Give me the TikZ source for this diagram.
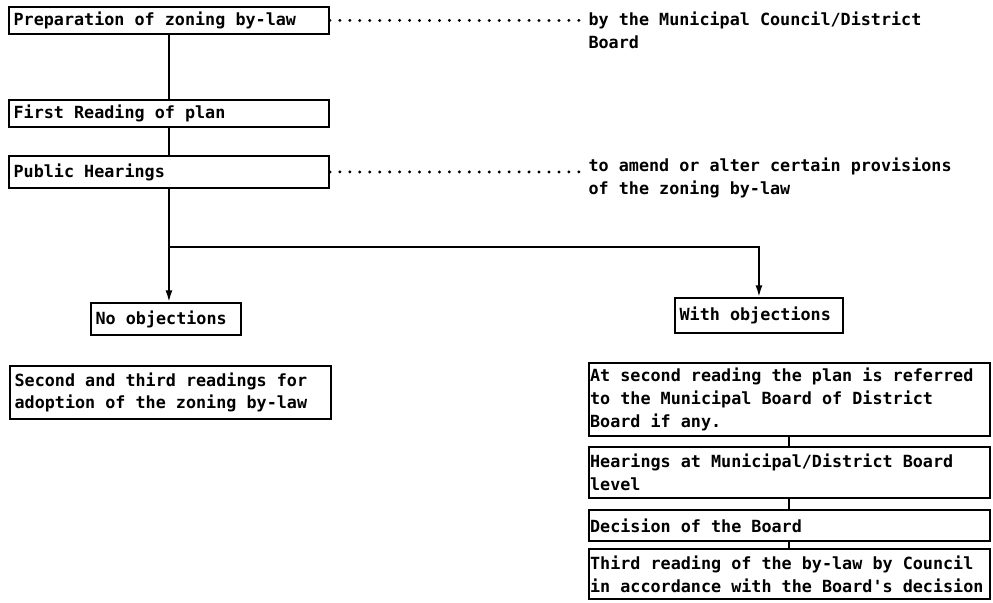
\documentclass[tikz,border=0pt]{standalone}
\usepackage{fontspec}
\setmonofont{DejaVu Sans Mono}
\usetikzlibrary{arrows.meta}

\newcommand{\flowfont}{\ttfamily\bfseries\fontsize{14.3}{19.6}\selectfont}

\begin{document}
\begin{tikzpicture}[
    box/.style={draw, line width=1.6pt, anchor=north west, align=flush left, inner xsep=4pt, inner ysep=2pt, font=\flowfont},
    wide/.style={box, inner xsep=1pt, text width=11.95cm},
    note/.style={anchor=north west, align=left, inner sep=0pt, font=\flowfont},
    link/.style={line width=1.6pt},
    arr/.style={link, -{Latex[length=10pt,width=6pt]}},
    dots/.style={line width=2.8pt, line cap=round, dash pattern=on 0pt off 8.5pt}
]
\useasboundingbox (0,0) rectangle (29.79,-18.06);

% main line
\node[box, text width=9.32cm, minimum height=0.81cm] (prep)   at (0.24,-0.18) {Preparation of zoning by-law};
\node[box, text width=9.32cm, minimum height=0.81cm] (first)  at (0.24,-2.97) {First Reading of plan};
\node[box, text width=9.32cm, minimum height=0.96cm] (public) at (0.24,-4.65) {Public Hearings};

% side notes
\node[note] (council) at (17.65,-0.36) {by the Municipal Council/District\\Board};
\node[note] (amend)   at (17.65,-4.74) {to amend or alter certain provisions\\of the zoning by-law};

% branches
\node[box, text width=4.22cm, minimum height=0.96cm] (noobj)   at (2.70,-9.06)  {No objections};
\node[box, text width=4.76cm, minimum height=1.05cm] (withobj) at (20.22,-8.91) {With objections};

\node[box, text width=9.35cm, minimum height=1.59cm] (adopt) at (0.27,-10.95) {Second and third readings for\\adoption of the zoning by-law};

\node[wide, minimum height=2.19cm] (refer)    at (17.64,-10.86) {At second reading the plan is referred\\to the Municipal Board of District\\Board if any.};
\node[wide, minimum height=1.53cm] (boardhr)  at (17.64,-13.38) {Hearings at Municipal/District Board\\level};
\node[wide, minimum height=0.93cm] (decision) at (17.64,-15.27) {Decision of the Board};
\node[wide, minimum height=1.50cm] (third)    at (17.64,-16.44) {Third reading of the by-law by Council\\in accordance with the Board's decision};

\coordinate (split) at ([yshift=-1.74cm]public.south);

\draw[link] (prep.south)  -- (prep.south |- first.north);
\draw[link] (first.south) -- (first.south |- public.north);
\draw[arr]  (public.south) -- (public.south |- noobj.north);
\draw[arr]  (split) -| (withobj.north);

\draw[link] (refer)    -- (boardhr);
\draw[link] (boardhr)  -- (decision);
\draw[link] (decision) -- (third);

\draw[dots] (prep.east)   -- (prep.east -| council.west);
\draw[dots] (public.east) -- (public.east -| amend.west);
\end{tikzpicture}
\end{document}
